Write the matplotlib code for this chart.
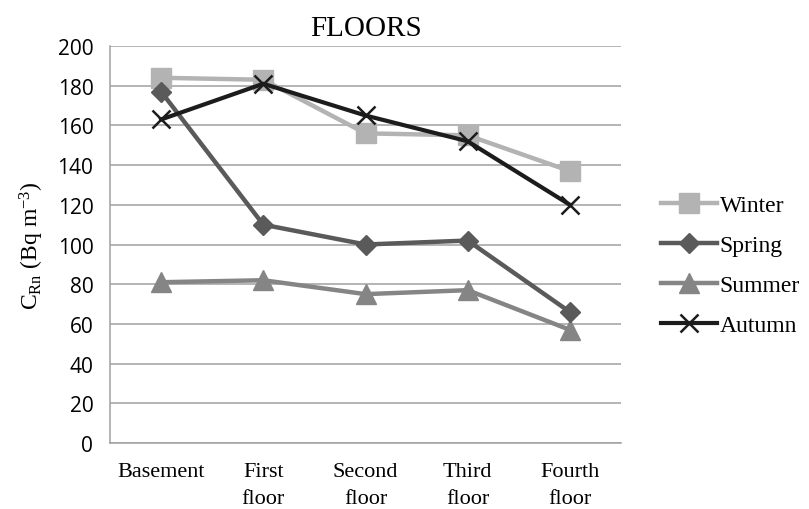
import matplotlib
matplotlib.use("Agg")
import matplotlib.pyplot as plt

floors = ["Basement", "First\nfloor", "Second\nfloor", "Third\nfloor", "Fourth\nfloor"]
winter = [184, 183, 156, 155, 137]
spring = [177, 110, 100, 102, 66]
summer = [81, 82, 75, 77, 57]
autumn = [163, 181, 165, 152, 120]
yticks = [0, 20, 40, 60, 80, 100, 120, 140, 160, 180, 200]

plt.rcParams["mathtext.fontset"] = "custom"
plt.rcParams["mathtext.rm"] = "Liberation Serif"
plt.rcParams["mathtext.it"] = "Liberation Serif:italic"

fig = plt.figure(figsize=(8.09, 5.10), dpi=100)
ax = fig.add_axes([0.136, 0.1294, 0.6316, 0.7784])

x = range(len(floors))
ax.plot(x, winter, color="#b3b3b3", lw=3.2, marker="s", ms=14, label="Winter", zorder=3)
ax.plot(x, spring, color="#5a5a5a", lw=3.2, marker="D", ms=10, label="Spring", zorder=4)
ax.plot(x, summer, color="#858585", lw=3.2, marker="^", ms=14, label="Summer", zorder=3)
ax.plot(x, autumn, color="#1c1c1c", lw=3.0, marker="x", ms=13, mew=1.8, label="Autumn", zorder=5)

ax.set_xlim(-0.5, len(floors) - 0.5)
ax.set_ylim(0, 200)
ax.set_yticks(yticks)
ax.set_xticks(list(x))
ax.set_xticklabels(floors, fontfamily="Liberation Serif", fontsize=16, linespacing=1.55)
for lab in ax.get_yticklabels():
    lab.set_fontfamily("Open Sans")
    lab.set_fontsize(15)
ax.tick_params(length=0)
ax.tick_params(axis="x", pad=14)
ax.tick_params(axis="y", pad=12)
ax.grid(axis="y", color="#a0a0a0", lw=1.1, zorder=0)
for s in ["top", "right"]:
    ax.spines[s].set_visible(False)
for s in ["left", "bottom"]:
    ax.spines[s].set_color("#a0a0a0")
    ax.spines[s].set_linewidth(1.1)

ax.set_title("FLOORS", fontfamily="Liberation Serif", fontsize=21, pad=8)
ax.set_ylabel(r"C$_{\rm Rn}$ (Bq m$^{-3}$)", fontfamily="Liberation Serif", fontsize=17, labelpad=8)

leg = ax.legend(loc="center left", bbox_to_anchor=(0.805, 0.478), bbox_transform=fig.transFigure,
                frameon=False, handlelength=2.4, handletextpad=0.1, labelspacing=0.78,
                prop={"family": "Liberation Serif", "size": 17}, borderaxespad=0)

fig.savefig("out.png", dpi=100)
